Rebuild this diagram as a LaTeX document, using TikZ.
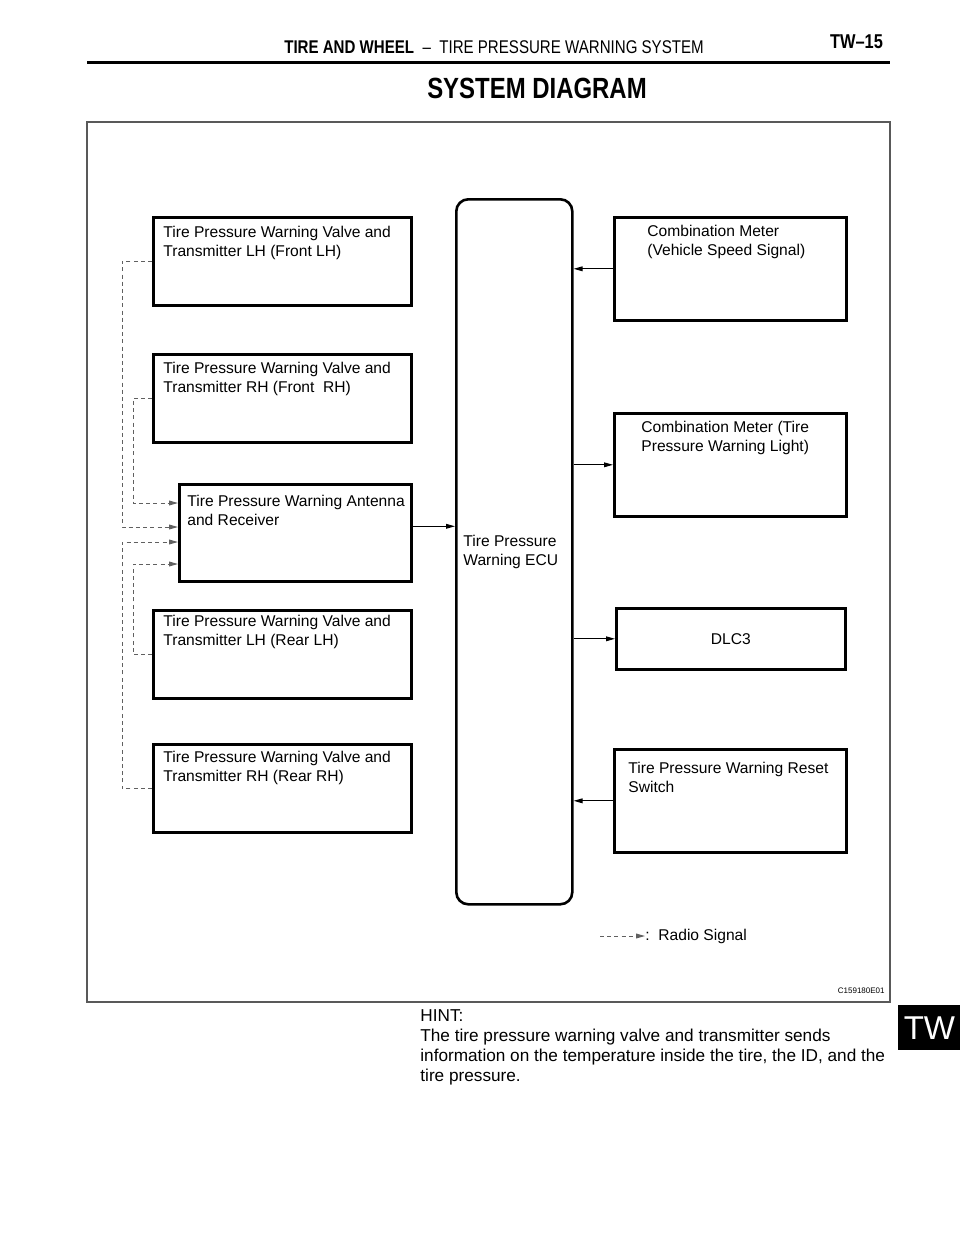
\documentclass[tikz,border=0pt]{standalone}
\usepackage{fontspec}
\setmainfont{Liberation Sans}
\newfontfamily\narrowsans[FakeStretch=0.82]{Liberation Sans}
\usetikzlibrary{
    arrows.meta,
    positioning % for the texts inside the boxes
}

\begin{document}
\begin{tikzpicture}[x=0.5pt,y=-0.5pt,
    unit/.style={draw,line width=1.3pt,minimum width=129pt,minimum height=44pt,anchor=north west,inner sep=0pt},
    txt/.style={anchor=north west,align=left,inner sep=0pt,font=\fontsize{7.8}{9.5}\selectfont},
    wire/.style={line width=0.5pt,-{Triangle[length=4.5pt,width=2.4pt]}},
    radio/.style={wire,gray!75!black,dash pattern=on 2pt off 1.6pt}]
    \useasboundingbox (0,0) rectangle (960,1242);

    % page head
    \node[anchor=base,font=\narrowsans\fontsize{9.2}{10}\selectfont] (head) at (494,54)
        {\textbf{TIRE AND WHEEL}\ \ –\ \ TIRE PRESSURE WARNING SYSTEM};
    \node[anchor=base east,font=\narrowsans\bfseries\fontsize{10}{11}\selectfont] (page) at (890,48) {TW–15};
    \draw[line width=1.5pt] (87,62) -- (890,62);
    \node[anchor=base,font=\narrowsans\bfseries\fontsize{14.6}{16}\selectfont] (title) at (537,98) {SYSTEM DIAGRAM};
    \draw[gray!70!black,line width=0.7pt] (87,122) rectangle (890,1002);

    % left column
    \node[unit] (lhf) at (152,216) {};
    \node[txt,below right=5pt and 5.5pt of lhf.north west] {Tire Pressure Warning Valve and\\Transmitter LH (Front LH)};
    \node[unit] (rhf) at (152,353) {};
    \node[txt,below right=4.5pt and 5.5pt of rhf.north west] {Tire Pressure Warning Valve and\\Transmitter RH (Front\ \ RH)};
    \node[unit,minimum width=116pt,minimum height=48.5pt] (ant) at (178,483) {};
    \node[txt,below right=6pt and 4.5pt of ant.north west] {Tire Pressure Warning Antenna\\and Receiver};
    \node[unit] (lhr) at (152,609) {};
    \node[txt,below right=3pt and 5.5pt of lhr.north west] {Tire Pressure Warning Valve and\\Transmitter LH (Rear LH)};
    \node[unit] (rhr) at (152,743) {};
    \node[txt,below right=4pt and 5.5pt of rhr.north west] {Tire Pressure Warning Valve and\\Transmitter RH (Rear RH)};

    % ECU
    \node[unit,rounded corners=6pt,minimum width=58pt,minimum height=352.5pt] (ecu) at (455,198) {};
    \node[txt,below right=168.5pt and 4pt of ecu.north west] {Tire Pressure\\Warning ECU};

    % right column
    \node[unit,minimum width=116pt,minimum height=51.5pt] (cmspd) at (613,216) {};
    \node[txt,below right=4.5pt and 17pt of cmspd.north west] {Combination Meter\\(Vehicle Speed Signal)};
    \node[unit,minimum width=116pt,minimum height=51.5pt] (cmlamp) at (613,412) {};
    \node[txt,below right=4.5pt and 14pt of cmlamp.north west] {Combination Meter (Tire\\Pressure Warning Light)};
    \node[unit,minimum width=114.5pt,minimum height=30.5pt,font=\fontsize{7.8}{9.5}\selectfont] (dlc) at (615,607) {DLC3};
    \node[unit,minimum width=116pt,minimum height=51.5pt] (reset) at (613,748) {};
    \node[txt,below right=7pt and 7.5pt of reset.north west] {Tire Pressure Warning Reset\\Switch};

    % signals
    \draw[wire] ([yshift=3.25pt]ant.east) -- ([yshift=3.25pt]ant.east -| ecu.west);
    \draw[wire] (cmspd.west) -- (cmspd.west -| ecu.east);
    \draw[wire] (ecu.east |- cmlamp.west) -- (cmlamp.west);
    \draw[wire] (ecu.east |- dlc.west) -- (dlc.west);
    \draw[wire] (reset.west) -- (reset.west -| ecu.east);

    \draw[radio] (lhf.west) -- ++(-30,0) |- ([yshift=-22pt]ant.north west);
    \draw[radio] (rhf.west) -- ++(-19,0) |- ([yshift=-10pt]ant.north west);
    \draw[radio] (lhr.west) -- ++(-19,0) |- ([yshift=-40.5pt]ant.north west);
    \draw[radio] (rhr.west) -- ++(-30,0) |- ([yshift=-29.5pt]ant.north west);

    % legend
    \node[txt,anchor=west] (legend) at (645,936) {:\ \ Radio Signal};
    \coordinate (legtail) at (600,936);
    \draw[radio] (legtail) -- (legend.west);
    \node[anchor=base east,inner sep=0pt,font=\fontsize{4}{5}\selectfont] (code) at (885,993) {C159180E01};

    % hint and tab
    \node[anchor=north west,align=left,inner sep=0pt,font=\fontsize{8.6}{10}\selectfont] (hint) at (420,1009)
        {HINT:\\The tire pressure warning valve and transmitter sends\\information on the temperature inside the tire, the ID, and the\\tire pressure.};
    \node[fill=black,text=white,anchor=north west,minimum width=31pt,minimum height=22.5pt,inner sep=0pt,
        font=\fontsize{16.5}{18}\selectfont] (tab) at (898,1005) {TW};
\end{tikzpicture}
\end{document}
